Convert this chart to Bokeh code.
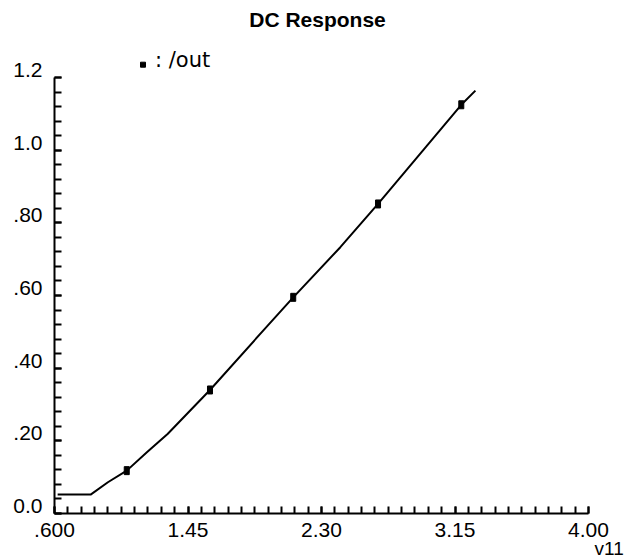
from bokeh.plotting import figure
from bokeh.models import FixedTicker, Range1d, Title, Label
from bokeh.embed import file_html
from bokeh.resources import INLINE

# DC sweep of v11 and the resulting /out voltage
v11 = [0.62, 0.83, 0.94, 1.06, 1.19, 1.32, 1.59, 1.93, 2.12, 2.42, 2.66, 3.19, 3.28]
out = [0.052, 0.052, 0.086, 0.118, 0.169, 0.219, 0.340, 0.504, 0.595, 0.733, 0.852, 1.125, 1.164]

# symbol positions placed along the trace
mark_v11 = [1.06, 1.59, 2.12, 2.66, 3.19]
mark_out = [0.118, 0.340, 0.595, 0.852, 1.125]

x_ticks = [0.6, 1.45, 2.30, 3.15, 4.00]
x_tick_labels = [".600", "1.45", "2.30", "3.15", "4.00"]
y_ticks = [0.0, 0.2, 0.4, 0.6, 0.8, 1.0, 1.2]
y_tick_labels = ["0.0", ".20", ".40", ".60", ".80", "1.0", "1.2"]

FONT = "Liberation Sans"

# the frame reaches the top of the canvas so the heading lines can live in it;
# the y axis itself is bounded to 0..1.2
p = figure(width=632, height=557, output_backend="svg", toolbar_location=None,
           title=None,
           x_range=Range1d(0.6, 4.0), y_range=Range1d(0.0, 1.412),
           min_border_left=54, min_border_right=44, min_border_top=0,
           min_border_bottom=44)
p.outline_line_color = None
p.xgrid.visible = False
p.ygrid.visible = False
p.background_fill_color = "white"
p.border_fill_color = "white"

# x axis: major every 0.85, minor every 0.085, ticks pointing inward
xa = p.xaxis[0]
xa.ticker = FixedTicker(ticks=x_ticks,
                        minor_ticks=[round(0.6 + 0.085 * i, 4) for i in range(41)])
xa.major_label_overrides = dict(zip(x_ticks, x_tick_labels))
xa.axis_line_width = 2
xa.axis_line_color = "black"
xa.major_tick_in = 7
xa.major_tick_out = 0
xa.minor_tick_in = 7
xa.minor_tick_out = 0
xa.major_tick_line_width = 2
xa.minor_tick_line_width = 2
xa.major_label_standoff = 9
xa.major_label_text_font = FONT
xa.major_label_text_font_size = "21px"
xa.major_label_text_color = "black"

# y axis: major every 0.2, minor every 0.04; labels sit just above their ticks
ya = p.yaxis[0]
ya.bounds = (0.0, 1.2)
ya.ticker = FixedTicker(ticks=y_ticks,
                        minor_ticks=[round(0.04 * i, 4) for i in range(31)])
ya.major_label_overrides = {t: lab + "\n" for t, lab in zip(y_ticks, y_tick_labels)}
ya.major_label_text_line_height = 0.7
ya.axis_line_width = 2
ya.axis_line_color = "black"
ya.major_tick_in = 7
ya.major_tick_out = 0
ya.minor_tick_in = 7
ya.minor_tick_out = 0
ya.major_tick_line_width = 2
ya.minor_tick_line_width = 2
ya.major_label_standoff = 12
ya.major_label_text_font = FONT
ya.major_label_text_font_size = "21px"
ya.major_label_text_color = "black"

# the /out trace and its symbols
p.line(v11, out, line_color="black", line_width=2)
p.rect(mark_v11, mark_out, width=5, height=8, width_units="screen",
       height_units="screen", fill_color="black", line_color="black")

# heading
p.add_layout(Label(x=2.2745, y=1.3597, text="DC Response", text_font=FONT,
                   text_font_size="21px", text_font_style="bold",
                   text_align="center", text_baseline="alphabetic",
                   text_color="black"))

# legend entry: trace symbol followed by the signal name
p.rect([1.1635], [1.2353], width=5, height=5, width_units="screen",
       height_units="screen", fill_color="black", line_color="black")
p.add_layout(Label(x=1.24, y=1.2496, text=": /out", text_font="DejaVu Sans",
                   text_font_size="21px", text_align="left",
                   text_baseline="alphabetic", text_color="black"))

# x-axis name under the last tick label
p.add_layout(Title(text="v11", align="left", offset=540, standoff=-8,
                   text_font=FONT, text_font_size="19px",
                   text_font_style="normal", text_color="black"), "below")

open("out.html", "w").write(file_html(p, INLINE))
